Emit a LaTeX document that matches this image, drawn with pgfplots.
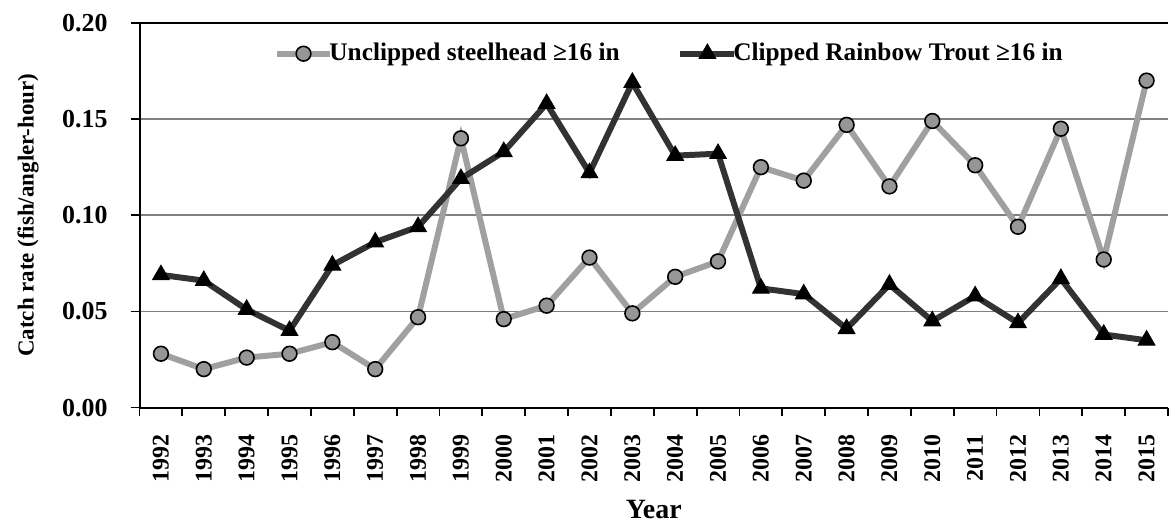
\documentclass[border=0pt]{standalone}
\usepackage{fontspec}
\setmainfont{Liberation Serif}
\usepackage{pgfplots}
\pgfplotsset{compat=1.18}

\definecolor{unclipline}{RGB}{160,160,160}
\definecolor{unclipfill}{RGB}{150,150,150}
\definecolor{clipline}{RGB}{50,50,50}
\definecolor{gridgray}{RGB}{128,128,128}

\begin{document}
\begin{tikzpicture}
\begin{axis}[
  name=ax,
  scale only axis,
  width=516pt, height=193pt,
  xmin=1991.5, xmax=2015.5,
  ymin=0, ymax=0.20,
  axis x line*=bottom, axis y line*=left,
  axis line style={black, line width=1pt, -},
  xtick={1992,...,2015},
  minor xtick={1991.5,1992.5,...,2015.5},
  major x tick style={draw=none},
  minor x tick style={black, line width=0.9pt},
  minor tick length=4pt,
  ytick={0,0.05,...,0.2},
  y tick style={black, line width=0.9pt},
  major tick length=4.5pt,
  tick align=outside,
  ymajorgrids, major grid style={gridgray, line width=0.8pt},
  /pgf/number format/assume math mode=true,
  x tick label style={/pgf/number format/1000 sep={}, rotate=90, anchor=east, font=\fontsize{12}{14}\selectfont\bfseries},
  y tick label style={/pgf/number format/.cd, fixed, fixed zerofill, precision=2, /tikz/.cd, font=\fontsize{13}{14}\selectfont\bfseries},
  xticklabel shift=5.5pt,
  yticklabel shift=8pt,
  xlabel={Year}, ylabel={Catch rate (fish/angler-hour)},
  xlabel style={font=\fontsize{14}{15}\selectfont\bfseries, yshift=-2pt},
  ylabel style={font=\fontsize{11.5}{13}\selectfont\bfseries, yshift=5pt},
  legend style={at={(0.130,0.92)}, anchor=west, draw=none, fill=none, inner sep=0pt,
    legend columns=2, font=\fontsize{12.7}{14}\selectfont\bfseries,
    nodes={inner sep=1pt},
    /tikz/every odd column/.append style={column sep=-3pt},
    /tikz/every even column/.append style={column sep=28pt}},
  legend image code/.code={
    \draw[#1, mark repeat=2, mark phase=2] plot coordinates {(0pt,0pt) (13.5pt,0pt) (27pt,0pt)};},
]
\draw[black, line width=1pt] (rel axis cs:0,1) -- (rel axis cs:1,1);
\addplot[unclipline, line width=3pt, mark=*, mark size=3.7pt,
  mark options={fill=unclipfill, draw=black, line width=0.8pt}] coordinates {
  (1992,0.028) (1993,0.020) (1994,0.026) (1995,0.028) (1996,0.034) (1997,0.020)
  (1998,0.047) (1999,0.140) (2000,0.046) (2001,0.053) (2002,0.078) (2003,0.049)
  (2004,0.068) (2005,0.076) (2006,0.125) (2007,0.118) (2008,0.147) (2009,0.115)
  (2010,0.149) (2011,0.126) (2012,0.094) (2013,0.145) (2014,0.077) (2015,0.170)};
\addlegendentry{Unclipped steelhead ≥16 in}
\addplot[clipline, line width=3pt, mark=triangle*, mark size=4.8pt,
  mark options={fill=black, draw=black, line width=0.5pt}] coordinates {
  (1992,0.069) (1993,0.066) (1994,0.051) (1995,0.040) (1996,0.074) (1997,0.086)
  (1998,0.094) (1999,0.119) (2000,0.133) (2001,0.158) (2002,0.122) (2003,0.169)
  (2004,0.131) (2005,0.132) (2006,0.062) (2007,0.059) (2008,0.041) (2009,0.064)
  (2010,0.045) (2011,0.058) (2012,0.044) (2013,0.067) (2014,0.038) (2015,0.035)};
\addlegendentry{Clipped Rainbow Trout ≥16 in}
\end{axis}
\pgfresetboundingbox
\path ([shift={(-70pt,11.5pt)}]ax.north west) rectangle ([shift={(1pt,-59pt)}]ax.south east);
\end{tikzpicture}
\end{document}
